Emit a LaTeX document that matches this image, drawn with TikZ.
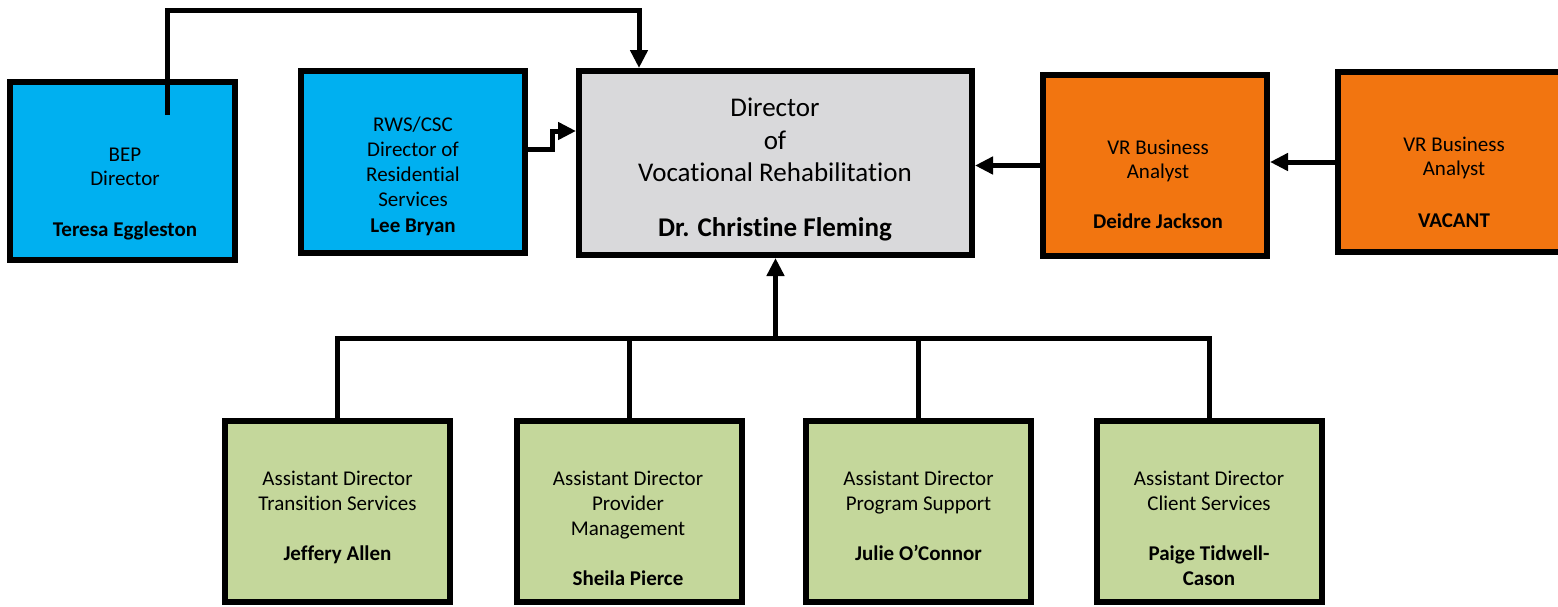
\documentclass[tikz,border=0pt]{standalone}
\usepackage{fontspec}
\setmainfont{Carlito}[Ligatures={NoCommon}]
\usetikzlibrary{arrows.meta}
\definecolor{bluebox}{HTML}{00B0F0}
\definecolor{orangebox}{HTML}{F27510}
\definecolor{graybox}{HTML}{D9D9DB}
\definecolor{greenbox}{HTML}{C4D79B}
\tikzset{
  box/.style={draw=black, line width=6pt, rectangle, inner sep=0pt},
  bluestyle/.style={box, fill=bluebox},
  orangestyle/.style={box, fill=orangebox},
  graystyle/.style={box, fill=graybox},
  greenstyle/.style={box, fill=greenbox, minimum width=225pt, minimum height=181pt},
  txt/.style={anchor=base, inner sep=0pt, font=\fontsize{21}{25}\selectfont},
  bigtxt/.style={anchor=base, inner sep=0pt, font=\fontsize{27}{32}\selectfont},
  conn/.style={line width=5pt, line join=miter},
  arr/.style={conn, -{Triangle[length=18pt,width=17pt]}}
}
\begin{document}
\begin{tikzpicture}[x=1pt,y=-1pt]
\useasboundingbox (0,0) rectangle (1558,606);
% boxes
\node[bluestyle, minimum width=225pt, minimum height=178pt] (bep) at (122.5,171) {};
\node[bluestyle, minimum width=224pt, minimum height=182pt] (rws) at (413,162) {};
\node[graystyle, minimum width=393pt, minimum height=184pt] (dir) at (775.5,163) {};
\node[orangestyle, minimum width=224pt, minimum height=181pt] (deidre) at (1155,165.5) {};
\node[orangestyle, minimum width=224pt, minimum height=180pt] (vacant) at (1450,162) {};
\node[greenstyle] (jeff) at (337.5,511.5) {};
\node[greenstyle] (sheila) at (629,511.5) {};
\node[greenstyle] (julie) at (918.5,511.5) {};
\node[greenstyle] (paige) at (1209.5,511.5) {};
% texts
\node[txt] (bept1) at (125,161) {BEP};
\node[txt] (bept2) at (125,185) {Director};
\node[txt] (bept3) at (125,236) {\textbf{Teresa Eggleston}};
\node[txt] (rwst1) at (413,131) {RWS/CSC};
\node[txt] (rwst2) at (413,156) {Director of};
\node[txt] (rwst3) at (413,181) {Residential};
\node[txt] (rwst4) at (413,206) {Services};
\node[txt] (rwst5) at (413,232) {\textbf{Lee Bryan}};
\node[bigtxt] (dirt1) at (775,116.5) {Director};
\node[bigtxt] (dirt2) at (775,149) {of};
\node[bigtxt] (dirt3) at (775,181.5) {Vocational Rehabilitation};
\node[bigtxt] (dirt4) at (775,236.5) {\textbf{Dr. Christine Fleming}};
\node[txt] (deit1) at (1158,154) {VR Business};
\node[txt] (deit2) at (1158,178) {Analyst};
\node[txt] (deit3) at (1158,228) {\textbf{Deidre Jackson}};
\node[txt] (vact1) at (1454,151) {VR Business};
\node[txt] (vact2) at (1454,175) {Analyst};
\node[txt] (vact3) at (1454,227) {\textbf{VACANT}};
\node[txt] (jeft1) at (337.5,485) {Assistant Director};
\node[txt] (jeft2) at (337.5,510.5) {Transition Services};
\node[txt] (jeft3) at (337.5,560.5) {\textbf{Jeffery Allen}};
\node[txt] (shet1) at (628,485) {Assistant Director};
\node[txt] (shet2) at (628,510.5) {Provider};
\node[txt] (shet3) at (628,535.5) {Management};
\node[txt] (shet4) at (628,585.5) {\textbf{Sheila Pierce}};
\node[txt] (julit1) at (918.5,485) {Assistant Director};
\node[txt] (julit2) at (918.5,510.5) {Program Support};
\node[txt] (julit3) at (918.5,560.5) {\textbf{Julie O’Connor}};
\node[txt] (pait1) at (1209,485) {Assistant Director};
\node[txt] (pait2) at (1209,510.5) {Client Services};
\node[txt] (pait3) at (1209,560.5) {\textbf{Paige Tidwell-}};
\node[txt] (pait4) at (1209,585.5) {\textbf{Cason}};
% connectors
\coordinate (bepstart) at (167,115);
\coordinate (topline) at (167,10);
\draw[arr] (bepstart) -- (topline) -| ([xshift=-136.5pt]dir.north);
\draw[arr] ([yshift=13pt]rws.east) -- ++(24,0) |- ([yshift=32pt]dir.west);
\draw[arr] (deidre.west) -- (dir.east |- deidre.west);
\draw[arr] (vacant.west) -- (deidre.east |- vacant.west);
\coordinate (bus) at (775.5,338);
\draw[arr] (bus) -- (dir.south);
\draw[conn] (jeff.north) |- (bus);
\draw[conn] (paige.north) |- (bus);
\draw[conn] (sheila.north) -- (sheila.north |- bus);
\draw[conn] (julie.north) -- (julie.north |- bus);
\end{tikzpicture}
\end{document}
